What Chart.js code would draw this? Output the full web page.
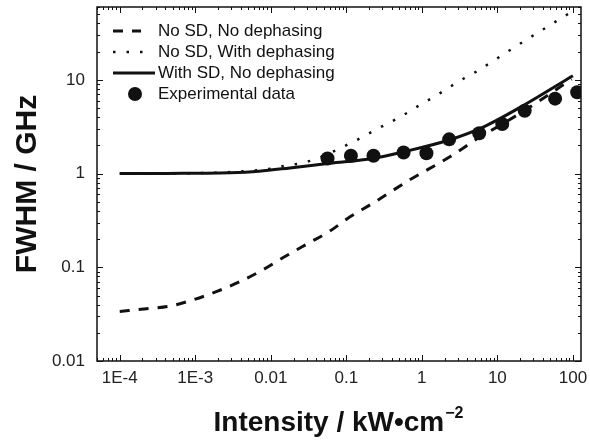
<!DOCTYPE html>
<html>
<head>
<meta charset="utf-8">
<script src="https://cdn.jsdelivr.net/npm/chart.js@4.4.1/dist/chart.umd.min.js"></script>
<style>
  html, body { margin: 0; padding: 0; background: #fff; }
</style>
</head>
<body>
<canvas id="chart" width="590" height="443"></canvas>
<script>
// values: intensity in kW/cm^2, FWHM in GHz
const dashX = [1e-4, 2.26e-4, 4.6e-4, 9.4e-4, 1.9e-3, 3.7e-3, 7.5e-3, 0.0146, 0.0297, 0.0604, 0.106, 0.226, 0.693, 2.35, 5.87, 11.9, 36.6, 96];
const dashY = [0.0338, 0.0361, 0.0385, 0.045, 0.055, 0.069, 0.092, 0.127, 0.176, 0.243, 0.336, 0.485, 0.858, 1.51, 2.46, 3.41, 6.03, 10.2];

const dotX = [1e-4, 1e-3, 3e-3, 0.0102, 0.0153, 0.0237, 0.0363, 0.123, 0.272, 0.511, 0.92, 1.73, 3.03, 5.19, 19.9, 100];
const dotY = [1.0, 1.01, 1.04, 1.13, 1.21, 1.28, 1.40, 2.18, 3.07, 4.01, 5.33, 7.19, 9.57, 12.2, 24.3, 54.4];

const solidX = [1e-4, 3e-4, 1e-3, 2.9e-3, 7e-3, 0.0179, 0.0605, 0.224, 0.56, 2.35, 6.48, 22.0, 100];
const solidY = [1.0, 1.0, 1.01, 1.02, 1.06, 1.15, 1.29, 1.45, 1.70, 2.3, 3.14, 5.33, 11.1];

const expX = [0.0564, 0.115, 0.229, 0.573, 1.15, 2.30, 5.74, 11.6, 23.0, 58.1, 114];
const expY = [1.45, 1.55, 1.55, 1.68, 1.65, 2.32, 2.70, 3.38, 4.69, 6.31, 7.38];

const seriesNames = ['No SD, No dephasing', 'No SD, With dephasing', 'With SD, No dephasing', 'Experimental data'];

const xTickValues = [1e-4, 1e-3, 0.01, 0.1, 1, 10, 100];
const xTickLabels = ['1E-4', '1E-3', '0.01', '0.1', '1', '10', '100'];
const yTickValues = [0.01, 0.1, 1, 10];
const yTickLabels = ['0.01', '0.1', '1', '10'];

const FONT = '"Liberation Sans", Arial, Helvetica, sans-serif';
const INK = '#111';

function pts(xs, ys) {
    return xs.map((x, i) => ({ x: x, y: ys[i] }));
}

function lineSet(label, xs, ys, width, dash) {
    return {
        label: label,
        data: pts(xs, ys),
        borderColor: INK,
        borderWidth: width,
        borderDash: dash,
        borderCapStyle: 'butt',
        pointRadius: 0,
        fill: false,
        cubicInterpolationMode: 'monotone'
    };
}

// ticks on all four sides (pointing in), plus the box
const framePlugin = {
    id: 'frame',
    afterDatasetsDraw(chart) {
        const ctx = chart.ctx;
        const a = chart.chartArea;
        const xs = chart.scales.x;
        const ys = chart.scales.y;
        ctx.save();
        ctx.strokeStyle = INK;
        ctx.lineWidth = 1;
        ctx.setLineDash([]);
        for (let d = -5; d <= 2; d++) {
            for (let k = 1; k <= 9; k++) {
                const v = k * Math.pow(10, d);
                if (v < xs.min || v > xs.max) continue;
                const px = Math.round(xs.getPixelForValue(v)) + 0.5;
                const len = k === 1 ? 6 : 3;
                ctx.beginPath();
                ctx.moveTo(px, a.bottom); ctx.lineTo(px, a.bottom - len);
                ctx.moveTo(px, a.top); ctx.lineTo(px, a.top + len);
                ctx.stroke();
            }
        }
        for (let d = -3; d <= 2; d++) {
            for (let k = 1; k <= 9; k++) {
                const v = k * Math.pow(10, d);
                if (v < ys.min || v > ys.max) continue;
                const py = Math.round(ys.getPixelForValue(v)) + 0.5;
                const len = k === 1 ? 6 : 3;
                ctx.beginPath();
                ctx.moveTo(a.left, py); ctx.lineTo(a.left + len, py);
                ctx.moveTo(a.right, py); ctx.lineTo(a.right - len, py);
                ctx.stroke();
            }
        }
        ctx.lineWidth = 1.5;
        ctx.strokeRect(a.left, a.top, a.right - a.left, a.bottom - a.top);
        ctx.restore();
    }
};

// legend inside the plot and the two axis titles
const textPlugin = {
    id: 'texts',
    afterDraw(chart) {
        const ctx = chart.ctx;
        ctx.save();

        ctx.fillStyle = INK;
        ctx.textBaseline = 'middle';
        ctx.textAlign = 'left';
        ctx.font = '17px ' + FONT;
        chart.data.datasets.forEach((ds, i) => {
            const y = 31 + i * 21;
            ctx.strokeStyle = INK;
            if (ds.showLine === false) {
                ctx.beginPath();
                ctx.arc(135, y, ds.pointRadius, 0, Math.PI * 2);
                ctx.fill();
            } else {
                ctx.lineWidth = ds.borderWidth;
                ctx.setLineDash(ds.borderDash || []);
                ctx.beginPath();
                ctx.moveTo(113, y);
                ctx.lineTo(i === 0 ? 141 : (i === 1 ? 145 : 155), y);
                ctx.stroke();
                ctx.setLineDash([]);
            }
            ctx.fillText(ds.label, 158, y);
        });

        // y title
        ctx.save();
        ctx.translate(28, 184);
        ctx.rotate(-Math.PI / 2);
        ctx.textAlign = 'center';
        ctx.font = 'bold 30px ' + FONT;
        ctx.fillText('FWHM / GHz', 0, 0);
        ctx.restore();

        // x title with superscript
        ctx.textBaseline = 'alphabetic';
        ctx.textAlign = 'left';
        const main = 'Intensity / kW\u2022cm';
        const sup = '\u22122';
        ctx.font = 'bold 28px ' + FONT;
        const wMain = ctx.measureText(main).width;
        ctx.font = 'bold 16px ' + FONT;
        const wSup = ctx.measureText(sup).width;
        const x0 = 338 - (wMain + wSup) / 2;
        ctx.font = 'bold 28px ' + FONT;
        ctx.fillText(main, x0, 431);
        ctx.font = 'bold 16px ' + FONT;
        ctx.fillText(sup, x0 + wMain + 1, 418);

        ctx.restore();
    }
};

function noPad(scale) {
    scale.paddingLeft = 0;
    scale.paddingRight = 0;
    scale.paddingTop = 0;
    scale.paddingBottom = 0;
}

const chart = new Chart(document.getElementById('chart'), {
    type: 'line',
    data: {
        datasets: [
            lineSet(seriesNames[0], dashX, dashY, 3, [10, 9]),
            lineSet(seriesNames[1], dotX, dotY, 2.5, [2.5, 11]),
            lineSet(seriesNames[2], solidX, solidY, 3, []),
            {
                label: seriesNames[3],
                data: pts(expX, expY),
                showLine: false,
                pointRadius: 7,
                pointBackgroundColor: INK,
                pointBorderWidth: 0,
                borderColor: INK
            }
        ]
    },
    options: {
        responsive: false,
        animation: false,
        layout: { padding: { left: 0, top: 4, right: 9, bottom: 0 } },
        plugins: {
            legend: { display: false },
            tooltip: { enabled: false }
        },
        scales: {
            x: {
                type: 'logarithmic',
                position: 'bottom',
                min: 5e-5,
                max: 128,
                grid: { display: false, drawTicks: false },
                border: { display: false },
                afterBuildTicks: (scale) => {
                    scale.ticks = xTickValues.map(v => ({ value: v }));
                },
                afterFit: (scale) => {
                    scale.height = 82;
                    noPad(scale);
                },
                ticks: {
                    autoSkip: false,
                    maxRotation: 0,
                    padding: 7,
                    color: '#222',
                    font: { family: FONT, size: 17 },
                    callback: (value, index) => xTickLabels[index]
                }
            },
            y: {
                type: 'logarithmic',
                position: 'left',
                min: 0.01,
                max: 60,
                grid: { display: false, drawTicks: false },
                border: { display: false },
                afterBuildTicks: (scale) => {
                    scale.ticks = yTickValues.map(v => ({ value: v }));
                },
                afterFit: (scale) => {
                    scale.width = 97;
                    noPad(scale);
                },
                ticks: {
                    autoSkip: false,
                    padding: 12,
                    color: '#222',
                    font: { family: FONT, size: 17 },
                    callback: (value, index) => yTickLabels[index]
                }
            }
        }
    },
    plugins: [framePlugin, textPlugin]
});
</script>
</body>
</html>
